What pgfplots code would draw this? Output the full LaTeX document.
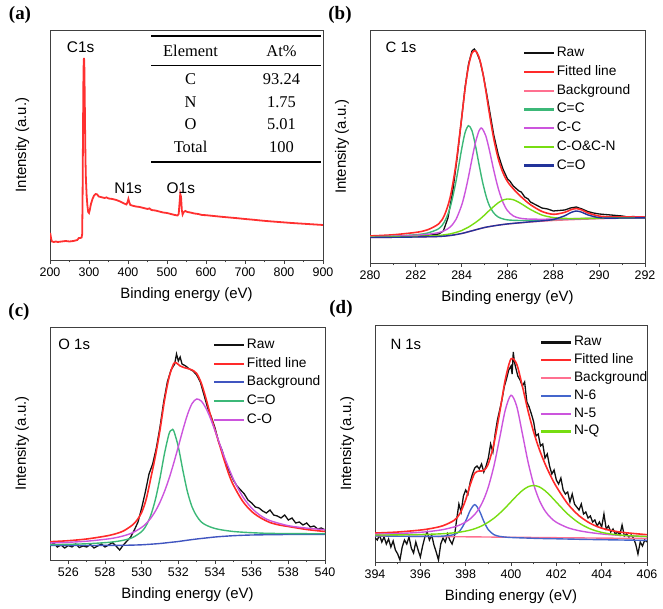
\documentclass[border=0pt]{standalone}
\usepackage{pgfplots}
\pgfplotsset{compat=1.18}
\usepackage{fontspec}
\setmainfont{Liberation Sans}
\newfontfamily\serif{Liberation Serif}
\usepackage{booktabs}
\usepackage{array}
\definecolor{fitred}{HTML}{FF2A2A}
\definecolor{rawblk}{HTML}{111111}
\definecolor{bgpink}{HTML}{FF7090}
\definecolor{teal}{HTML}{3CB878}
\definecolor{viol}{HTML}{CC55DD}
\definecolor{lime}{HTML}{77DD11}
\definecolor{dblue}{HTML}{22339A}
\definecolor{mblue}{HTML}{4055C0}
\definecolor{nblue}{HTML}{4466CC}
\definecolor{survred}{HTML}{FF3030}
\pgfplotsset{
  xps/.style={
    scale only axis,
    axis line style={draw=black!75, line width=0.9bp},
    ytick=\empty,
    xtick pos=left,
    tick align=outside,
    major tick length=4bp, minor tick length=2.5bp,
    minor x tick num=1,
    every tick/.style={black!75, line width=0.8bp},
    tick label style={font=\fontsize{12.5}{14}\selectfont},
    /pgf/number format/assume math mode=true,
    /pgf/number format/set thousands separator={},
    xlabel={Binding energy (eV)},
    ylabel={Intensity (a.u.)},
    every axis x label/.style={at={(axis description cs:0.5,0)}, anchor=center, yshift=-35bp, font=\fontsize{15}{17}\selectfont},
    every axis y label/.style={at={(axis description cs:-0.102,0.5)}, anchor=center, rotate=90, font=\fontsize{15}{17}\selectfont},
    legend style={draw=none, fill=none, font=\fontsize{13.8}{16}\selectfont, anchor=north west, row sep=2.7bp, inner sep=0pt, nodes={inner sep=1.5bp, text height=10bp, text depth=3bp}},
    legend cell align=left,
    legend image code/.code={\draw[#1, line width=2.2bp] (0bp,0bp) -- (30bp,0bp);},
    ymin=0,
  },
  comp/.style={line width=1.4bp, smooth},
}
\begin{document}
\begin{tikzpicture}[x=1bp,y=1bp]
\useasboundingbox (0,0) rectangle (663,609);
% ---------------- (a)
\begin{axis}[xps, at={(50bp,349bp)}, anchor=south west, width=273bp, height=230bp,
  xmin=200, xmax=900, ymax=230, xtick={200,300,...,900}]
\addplot[survred, line width=1.8bp] coordinates {
(200,27) (201,26) (203,21) (205,18.5) (210,18) (215,18.5) (220,18) (230,18.5) (240,19) (250,18.5) (260,19) (265,19.5) (270,20) (274,22) (278,22) (281,22.5) (282.5,26) (283.5,60) (284.5,120) (285.5,175) (286.5,200) (287.3,202) (288,195) (289,165) (290,130) (291,100) (292,82) (294,64) (296,54) (298,48) (300,47) (302,50) (305,56) (309,61) (313,64.5) (317,66) (321,65.5) (325,63.5) (330,63) (335,62.5) (340,62) (345,62.6) (350,61.5) (360,61) (370,60) (380,58.5) (390,56.5) (396,55.5) (399,58) (401,61) (403,58) (406,55) (410,54.5) (420,53.5) (430,53) (440,52) (450,51) (455,51.6) (460,50) (470,49.5) (480,48.5) (490,47.5) (500,47) (510,46) (520,45) (527,44.5) (530,46) (532,56) (534,66) (536,63) (538,50) (540,45.5) (543,48) (547,49) (552,48) (560,47.5) (570,46.5) (580,46) (590,45) (600,44.8) (620,44) (640,43.2) (660,42.5) (680,41.8) (700,41) (720,40.3) (740,39.5) (760,38.8) (780,38.2) (800,37.6) (820,37) (840,36.5) (860,36) (880,35.5) (900,35)};
\node[font=\fontsize{15.5}{17}\selectfont] at (axis cs:278.6,213.3) {C1s};
\node[font=\fontsize{15.5}{17}\selectfont] at (axis cs:400.5,71.7) {N1s};
\node[font=\fontsize{15.5}{17}\selectfont] at (axis cs:535.5,71.7) {O1s};
\end{axis}
\node[inner sep=0pt, font=\serif\fontsize{16.5}{22.5}\selectfont] at (236,510) {%
\begin{tabular}{@{}>{\centering\arraybackslash}p{79bp}>{\centering\arraybackslash}p{79bp}@{}}
\toprule[1.6bp]
Element & At\% \\
\midrule[0.8bp]
C & 93.24 \\
N & 1.75 \\
O & 5.01 \\
Total & 100 \\
\bottomrule[1.6bp]
\end{tabular}};
% ---------------- (b)
\begin{axis}[xps, at={(370bp,346bp)}, anchor=south west, width=275bp, height=233bp,
  xmin=280, xmax=292, ymax=233, xtick={280,282,...,292},
  legend style={at={(axis description cs:0.556,0.935)}}]
\addplot[rawblk, line width=1.3bp] coordinates {
(280,26) (280.5,26.3) (281,26) (281.5,26.5) (282,26.8) (282.5,27.5) (283,29) (283.2,32) (283.4,45) (283.6,70) (283.8,105) (284,145) (284.15,176) (284.3,199) (284.45,212) (284.55,214) (284.65,211) (284.8,202) (284.95,187) (285.1,168) (285.25,148) (285.4,128) (285.6,108) (285.8,94) (286,84) (286.1,82) (286.25,77) (286.4,74) (286.5,72) (286.6,71) (286.75,66) (286.9,64) (287,61) (287.25,58) (287.5,55) (287.75,54) (288,52) (288.25,52.5) (288.5,53) (288.75,55) (289,56) (289.25,54) (289.5,51.5) (289.75,50) (290,49) (290.25,48.5) (290.5,48) (290.75,47.5) (291,47) (291.25,46) (291.5,46.5) (291.75,45.5) (292,45.5)};
\addlegendentry{Raw}
\addplot[fitred, line width=1.6bp, smooth] coordinates {
(280,27.05) (281,28.2) (282,30.6) (282.5,33.1) (283,39.2) (283.25,47.9) (283.5,65.8) (283.75,98.7) (284,145.2) (284.15,174.5) (284.3,197.1) (284.45,209.9) (284.6,212.1) (284.75,206.2) (284.9,192.6) (285.05,172.9) (285.2,150.8) (285.4,124.2) (285.6,104) (285.8,90.3) (286,81.4) (286.25,74.2) (286.5,68.2) (286.75,63) (287,58.3) (287.5,51.55) (288,48.7) (288.5,50.65) (288.75,53.15) (289,54.45) (289.25,52.95) (289.5,50.1) (290,46.9) (290.5,46.2) (291,46.14) (291.5,46) (292,45.96)};
\addlegendentry{Fitted line}
\addplot[bgpink, comp] coordinates {
(280,25.5) (281,25.7) (282,26) (283,26.5) (283.5,27.5) (284,29.5) (284.5,32.5) (285,35.5) (285.5,37.5) (286,39) (286.5,40) (287,41) (288,42.5) (289,43.5) (290,44.3) (291,44.8) (292,45)};
\addlegendentry{Background}
\addplot[teal, comp] coordinates {
(280,26.2) (281,26.8) (282,28.3) (282.5,29.9) (283,34.3) (283.25,41.2) (283.5,55.7) (283.75,81.4) (284,114) (284.15,130.4) (284.3,137.3) (284.45,132.2) (284.6,117.6) (284.75,99.4) (284.9,82.2) (285.05,68.1) (285.2,57.8) (285.4,50) (285.6,45.9) (285.8,44.1) (286,43.1) (286.25,42.7) (286.5,42.5) (286.75,42.5) (287,42.7) (287.5,43.05) (288,43.4) (288.5,43.7) (289,44.1) (289.5,44.4) (290,44.7) (290.5,44.86) (291,45.1) (291.5,45.2) (292,45.25)};
\addlegendentry{C=C}
\addplot[viol, comp] coordinates {
(280,26.1) (281,26.7) (282,27.7) (282.5,28.65) (283,30.4) (283.25,32.4) (283.5,36) (283.75,43.5) (284,57.8) (284.15,70.7) (284.3,86.5) (284.45,104) (284.6,120.3) (284.75,131.8) (284.85,135) (284.9,134.3) (285.05,127.3) (285.2,113.8) (285.4,92.7) (285.6,74.2) (285.8,60.7) (286,52.3) (286.25,47.1) (286.5,45) (286.75,44.2) (287,43.9) (287.5,43.75) (288,43.9) (288.5,44.1) (289,44.35) (289.5,44.6) (290,44.9) (290.5,45) (291,45.2) (291.5,45.3) (292,45.35)};
\addlegendentry{C-C}
\addplot[lime, comp] coordinates {
(280,25.8) (281,26.1) (282,26.6) (282.5,26.95) (283,27.5) (283.25,28.25) (283.5,29.1) (283.75,30.6) (284,32.4) (284.15,34.2) (284.3,35.9) (284.45,38.1) (284.6,40.4) (284.75,43) (284.9,45.9) (285.05,49.1) (285.2,52.4) (285.4,56.5) (285.6,60.3) (285.8,62.9) (286,64) (286.25,63.3) (286.5,60.6) (286.75,57.1) (287,53.5) (287.5,48) (288,45.4) (288.5,44.6) (289,44.5) (289.5,44.65) (290,44.9) (290.5,45) (291,45.2) (291.5,45.2) (292,45.3)};
\addlegendentry{C-O\&C-N}
\addplot[dblue, comp] coordinates {
(280,25.5) (281,25.7) (282,26) (283,26.5) (283.5,27.5) (284,29.5) (284.5,32.5) (285,35.5) (285.5,37.5) (286,39.05) (286.5,40.15) (287,41.2) (287.5,42.15) (288,43.5) (288.5,47.25) (288.75,50.3) (289,52) (289.25,50.7) (289.5,48.15) (290,45.3) (290.5,44.85) (291,45) (291.5,45.03) (292,45.1)};
\addlegendentry{C=O}
\node[anchor=west, font=\fontsize{15}{17}\selectfont] at (axis description cs:0.044,0.927) {C 1s};
\end{axis}
% ---------------- (c)
\begin{axis}[xps, at={(50bp,49bp)}, anchor=south west, width=275bp, height=233bp,
  xmin=525, xmax=540, ymax=233, xtick={526,528,...,540},
  legend style={at={(axis description cs:0.593,0.958)}}]
\addplot[rawblk, line width=1.3bp] coordinates {
(525,14) (525.2,17) (525.4,13) (525.6,15) (525.8,12) (526,14.5) (526.2,13) (526.4,16) (526.6,12.5) (526.8,14) (527,13) (527.2,15.5) (527.4,12) (527.6,14) (527.8,16) (528,13) (528.2,15) (528.4,17.5) (528.6,14) (528.8,10) (529,15) (529.2,19) (529.4,23) (529.6,30) (529.8,38) (530,52) (530.2,68) (530.4,86) (530.6,96) (530.8,112) (531,133) (531.2,158) (531.4,178) (531.6,190) (531.8,196) (531.9,206) (532,199) (532.1,203) (532.2,196) (532.4,194) (532.6,191) (532.8,189) (533,185) (533.2,178) (533.4,165) (533.6,152) (533.8,143) (534,132) (534.2,118) (534.4,109) (534.6,96) (534.8,88) (535,80) (535.2,74) (535.4,70) (535.6,66) (535.8,60) (536,57) (536.2,53) (536.4,52) (536.6,49) (536.8,47) (537,50) (537.2,45) (537.4,44) (537.6,42) (537.8,45) (538,40) (538.2,42) (538.4,37) (538.6,38) (538.8,35) (539,37) (539.2,33) (539.4,34) (539.6,31) (539.8,32) (540,30)};
\addlegendentry{Raw}
\addplot[fitred, line width=1.6bp, smooth] coordinates {
(525,18.3) (526,19.3) (527,21) (528,23.8) (528.5,25.8) (529,29) (529.5,35) (529.75,40) (530,47.5) (530.25,61) (530.5,82) (530.75,104) (531,130) (531.25,160) (531.5,183) (531.75,196.5) (531.9,197) (532.1,194) (532.3,192.5) (532.5,191.5) (532.75,190) (533,186.5) (533.25,177) (533.5,162) (533.75,145) (534,130) (534.25,115) (534.5,100) (534.75,86) (535,75) (535.5,59) (536,48.5) (536.5,42) (537,37.5) (537.5,35) (538,33.5) (539,30.5) (540,28.5)};
\addlegendentry{Fitted line}
\addplot[mblue, comp] coordinates {
(525,14.5) (527,14.5) (528,14.6) (529,14.7) (529.5,14.9) (530,15.2) (530.5,15.8) (531,16.5) (531.5,17.5) (532,18.5) (532.5,19.8) (533,21) (533.5,22) (534,23) (534.5,23.7) (535,24.3) (535.5,24.7) (536,25) (537,25.3) (538,25.5) (539,25.6) (540,25.7)};
\addlegendentry{Background}
\addplot[teal, comp] coordinates {
(525,15.35) (526,15.67) (527,16.23) (528,17.34) (528.5,18.24) (529,19.72) (529.5,22.43) (530,28.4) (530.25,34.6) (530.5,44.9) (530.75,60.6) (531,82) (531.25,106.9) (531.5,126.6) (531.65,130) (531.75,129.2) (532,113.1) (532.25,89.4) (532.5,68) (532.75,53) (533,44) (533.25,38) (533.5,35) (533.75,33) (534,31.5) (534.25,30.5) (534.5,29.7) (535,28.5) (535.5,27.8) (536,27.3) (536.5,26.9) (537,26.6) (538,26.45) (539,26.3) (540,26.25)};
\addlegendentry{C=O}
\addplot[viol, comp] coordinates {
(525,17) (526,17.7) (527,18.8) (528,20.7) (528.5,22) (529,24.1) (529.5,27.2) (530,32.6) (530.25,36.6) (530.5,41.9) (530.75,48.9) (531,57.8) (531.25,68.8) (531.5,81.8) (531.75,97) (532,113.4) (532.25,130.2) (532.5,145.5) (532.75,156.5) (533,161) (533.25,158.9) (533.5,152) (533.75,141.7) (534,129.4) (534.25,116.4) (534.5,103.5) (535,81) (535.5,63.7) (536,51.9) (536.5,44.2) (537,39.4) (538,34.3) (539,31.9) (540,30.3)};
\addlegendentry{C-O}
\node[anchor=west, font=\fontsize{15}{17}\selectfont] at (axis description cs:0.018,0.927) {O 1s};
\end{axis}
% ---------------- (d)
\begin{axis}[xps, at={(375bp,47bp)}, anchor=south west, width=272bp, height=237bp,
  xmin=394, xmax=406, ymax=237, xtick={394,396,...,406},
  legend style={at={(axis description cs:0.607,0.961)}, row sep=1.8bp}]
\addplot[rawblk, line width=1.3bp] coordinates {
(394,24) (394.1,22) (394.2,27) (394.3,20) (394.4,25) (394.5,18) (394.6,23) (394.7,15) (394.8,21) (394.9,12) (395,8) (395.1,2) (395.2,15) (395.3,22) (395.4,18) (395.5,25) (395.6,14) (395.7,9) (395.8,20) (395.9,12) (396,5) (396.1,16) (396.2,25) (396.3,30) (396.4,22) (396.5,27) (396.6,17) (396.7,10) (396.8,2) (396.9,18) (397,24) (397.1,20) (397.2,28) (397.3,22) (397.4,18) (397.5,25) (397.6,42) (397.7,58) (397.8,50) (397.9,66) (398,72) (398.1,68) (398.2,80) (398.3,88) (398.4,94) (398.5,96) (398.6,93) (398.7,98) (398.8,90) (398.9,96) (399,104) (399.1,118) (399.2,110) (399.3,128) (399.4,142) (399.5,152) (399.6,162) (399.7,175) (399.8,183) (399.9,192) (400,196) (400.05,188) (400.1,210) (400.15,200) (400.2,195) (400.3,186) (400.4,182) (400.5,176) (400.6,180) (400.7,160) (400.8,155) (400.9,148) (401,140) (401.1,126) (401.2,128) (401.3,116) (401.4,118) (401.5,104) (401.6,108) (401.7,96) (401.8,88) (401.9,92) (402,82) (402.1,78) (402.2,84) (402.3,72) (402.4,68) (402.5,70) (402.6,60) (402.7,68) (402.8,58) (402.9,55) (403,52) (403.1,58) (403.2,48) (403.3,50) (403.4,44) (403.5,46) (403.6,40) (403.7,42) (403.8,36) (403.9,40) (404,35) (404.1,48) (404.2,33) (404.3,36) (404.4,30) (404.5,33) (404.6,28) (404.7,30) (404.8,27) (404.9,37) (405,26) (405.1,28) (405.2,25) (405.3,27) (405.4,24) (405.5,18) (405.6,8) (405.7,20) (405.8,16) (405.9,22) (406,20)};
\addlegendentry{Raw}
\addplot[fitred, line width=1.6bp, smooth] coordinates {
(394,28.96) (395,29.96) (396,31.93) (396.5,33.62) (397,36.3) (397.5,41.8) (397.75,48.6) (398,62.2) (398.2,77.2) (398.4,88.8) (398.6,91) (398.8,91.5) (399,98.2) (399.25,118.6) (399.5,149.45) (399.75,182.7) (400,203) (400.25,197.9) (400.5,175.9) (400.75,151.2) (401,129.9) (401.25,112.6) (401.5,98.2) (401.75,86) (402,75.4) (402.5,58.2) (403,46.3) (403.5,38.6) (404,33.8) (404.5,31.1) (405,29.4) (406,27.3)};
\addlegendentry{Fitted line}
\addplot[bgpink, comp] coordinates {
(394,26) (396,25.6) (398,25.2) (400,24.75) (402,24.3) (404,23.9) (406,23.5)};
\addlegendentry{Background}
\addplot[nblue, comp] coordinates {
(394,26.1) (395,25.8) (396,25.6) (396.5,25.6) (397,25.9) (397.5,27.5) (397.75,31.4) (398,41) (398.2,51.6) (398.4,57.35) (398.6,51.45) (398.8,40.7) (399,32.3) (399.25,27.3) (399.5,25.6) (399.75,24.9) (400,24.5) (400.5,24.1) (401,23.7) (401.5,23.4) (402,23.2) (403,22.7) (404,22.3) (405,21.95) (406,21.55)};
\addlegendentry{N-6}
\addplot[viol, comp] coordinates {
(394,27.85) (395,28.4) (396,29.7) (396.5,30.8) (397,32.4) (397.5,35.1) (397.75,37.1) (398,40) (398.2,43.2) (398.4,47.6) (398.6,53.8) (398.8,62.8) (399,75.1) (399.25,96.4) (399.5,124) (399.75,152.2) (400,166.75) (400.25,155.8) (400.5,128.5) (400.75,100.2) (401,77.6) (401.25,61.7) (401.5,51.1) (401.75,44.3) (402,39.7) (402.5,34.3) (403,31.3) (403.5,29.4) (404,28.05) (404.5,27.1) (405,26.4) (406,25.4)};
\addlegendentry{N-5}
\addplot[lime, comp] coordinates {
(394,27) (395,27.1) (396,27.5) (396.5,27.8) (397,28.3) (397.5,29.2) (397.75,29.9) (398,30.9) (398.2,31.9) (398.4,33.3) (398.6,35) (398.8,37.2) (399,39.9) (399.25,43.8) (399.5,48.7) (399.75,54.2) (400,60.25) (400.25,66.2) (400.5,71.5) (400.75,75.2) (401,76.5) (401.25,75.1) (401.5,71.3) (401.75,65.9) (402,59.8) (402.5,48) (403,39) (403.5,33.1) (404,29.6) (404.5,27.7) (405,26.6) (406,25.4)};
\addlegendentry{N-Q}
\node[anchor=west, font=\fontsize{15}{17}\selectfont] at (axis description cs:0.044,0.916) {N 1s};
\end{axis}
% panel labels
\node[font=\serif\bfseries\fontsize{19}{21}\selectfont] at (20,594) {(a)};
\node[font=\serif\bfseries\fontsize{19}{21}\selectfont] at (340,594) {(b)};
\node[font=\serif\bfseries\fontsize{19}{21}\selectfont] at (19,297) {(c)};
\node[font=\serif\bfseries\fontsize{19}{21}\selectfont] at (341,300) {(d)};
\end{tikzpicture}
\end{document}
